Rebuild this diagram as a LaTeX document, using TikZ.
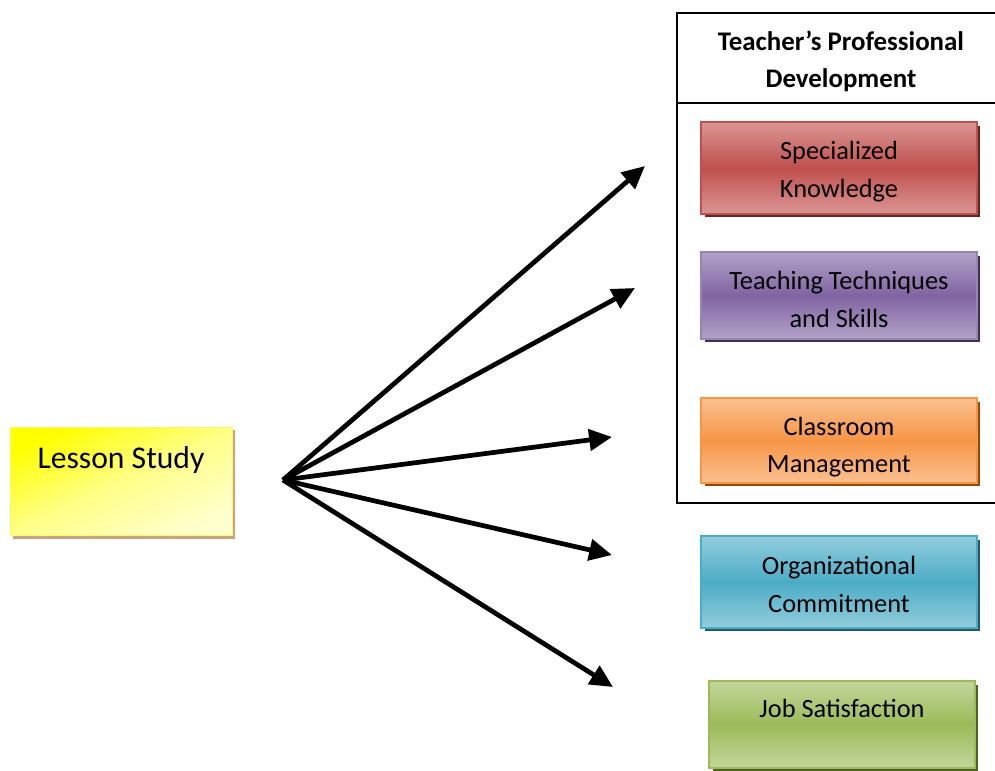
\documentclass[tikz,border=0pt]{standalone}
\usepackage{fontspec}
\setmainfont{Carlito}
\usetikzlibrary{arrows.meta,shadows,positioning}

\definecolor{redmid}{RGB}{192,80,77}
\definecolor{redlight}{RGB}{218,150,148}
\definecolor{reddark}{RGB}{99,37,35}
\definecolor{purmid}{RGB}{128,100,162}
\definecolor{purlight}{RGB}{179,162,199}
\definecolor{purdark}{RGB}{63,49,81}
\definecolor{ormid}{RGB}{247,150,70}
\definecolor{orlight}{RGB}{250,192,144}
\definecolor{ordark}{RGB}{152,72,7}
\definecolor{bluemid}{RGB}{75,172,198}
\definecolor{bluelight}{RGB}{147,205,221}
\definecolor{bluedark}{RGB}{33,89,104}
\definecolor{grnmid}{RGB}{155,187,89}
\definecolor{grnlight}{RGB}{195,214,155}
\definecolor{grndark}{RGB}{79,98,40}
\definecolor{tan}{RGB}{201,162,126}
\definecolor{paleyellow}{RGB}{255,255,205}
\definecolor{midyellow}{RGB}{255,255,135}

% strut that pushes the first line of a box down a little
\newcommand{\boxlift}[1]{\rule{0pt}{#1}}

\begin{document}
\begin{tikzpicture}[
    x=0.02cm, y=-0.02cm,
    every node/.style={font=\fontsize{15}{21.5}\selectfont},
    factor/.style n args={4}{draw=#1, line width=1pt, top color=#2, bottom color=#2, middle color=#3,
        align=center, minimum width=5.52cm, minimum height=1.8cm, inner sep=0pt,
        drop shadow={shadow xshift=0.07cm, shadow yshift=-0.07cm, fill=#4, opacity=1}},
    link/.style={line width=2.7pt, -{Triangle[length=13pt, width=12pt]}}
]
    \useasboundingbox (0,0) rectangle (995,771);

    % Lesson Study box, text sits near the top
    \node[draw=yellow!60, line width=0.4pt, top color=yellow, bottom color=paleyellow, middle color=midyellow,
          shading angle=25,
          minimum width=4.44cm, inner xsep=0pt, inner ysep=0pt, text height=23.5pt, text depth=1.347cm,
          font=\fontsize{18}{22}\selectfont,
          drop shadow={shadow xshift=0.06cm, shadow yshift=-0.06cm, fill=tan, opacity=1}]
        (lesson) at (121,481.5) {Lesson Study};

    % Teacher's professional development frame (runs off the right edge)
    \draw[line width=1.1pt] (1000,13) -- (677,13) -- (677,503) -- (1000,503);
    \draw[line width=1.1pt] (677,103) -- (1000,103);
    \node[align=center, font=\fontsize{15.3}{21}\selectfont\bfseries] (tpd) at (841,61)
        {Teacher’s Professional\\Development};

    % Outcome boxes
    \node[factor={redmid}{redlight}{redmid}{reddark}, minimum height=1.84cm]
        (spec) at (839,168) {\boxlift{14.5pt}Specialized\\Knowledge};
    \node[factor={purmid!80}{purlight}{purmid}{purdark}, minimum height=1.74cm]
        (teach) at (839,295.5) {\boxlift{14.5pt}Teaching Techniques\\and Skills};
    \node[factor={ormid}{orlight}{ormid}{ordark}, minimum height=1.7cm]
        (class) at (839,440.5) {\boxlift{18pt}Classroom\\Management};
    \node[factor={bluemid}{bluelight}{bluemid}{bluedark}, minimum height=1.84cm]
        (org) at (839,582) {\boxlift{13pt}Organizational\\Commitment};
    \node[factor={grnmid}{grnlight}{grnmid}{grndark}, minimum width=5.32cm, minimum height=0cm,
          text height=20.5pt, text depth=1.02cm, inner ysep=0pt]
        (job) at (842,724.5) {Job Satisfaction};

    % Arrows fanning out from one point
    \coordinate (hub) at (283,480);
    \foreach \n/\x/\y in {1/645/166, 2/635/288, 3/612/437, 4/612/555, 5/613/687} {
        \coordinate (tip\n) at (\x,\y);
        \draw[link] (hub) -- (tip\n);
    }

\end{tikzpicture}
\end{document}
